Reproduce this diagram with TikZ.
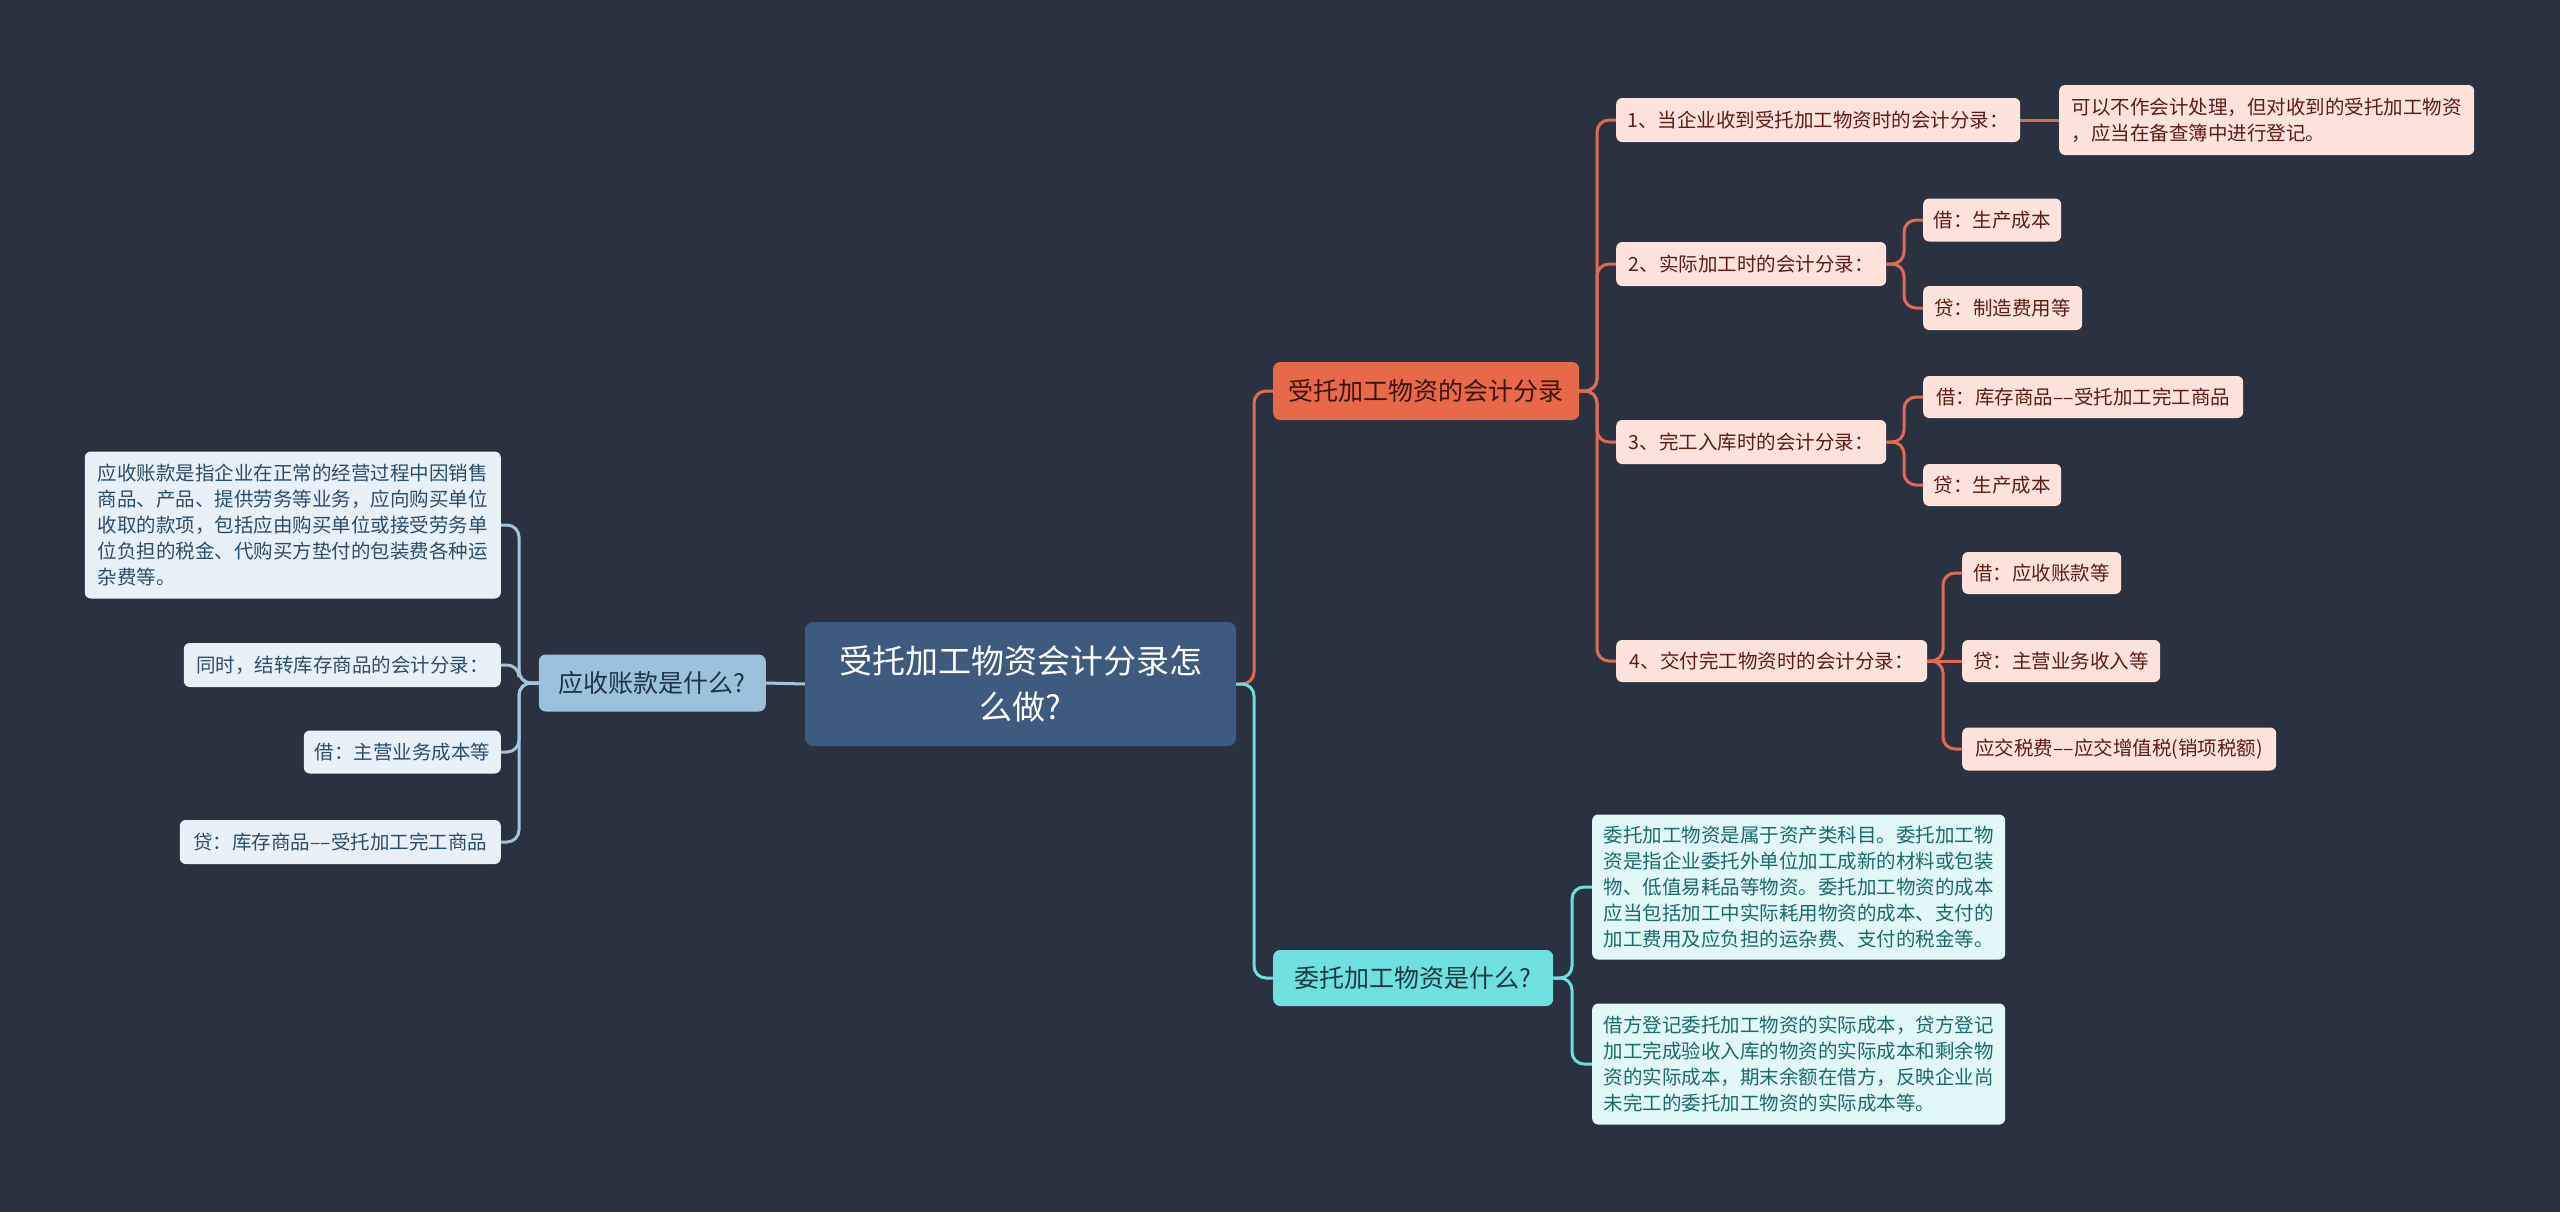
\documentclass[tikz,border=0pt]{standalone}
\usepackage{fontspec}
\setmainfont{Noto Sans CJK SC}
\definecolor{bg}{HTML}{2A3242}
\definecolor{rootfill}{HTML}{3E5A7F}
\definecolor{ofill}{HTML}{E8694A}
\definecolor{otext}{HTML}{3A140C}
\definecolor{oline}{HTML}{E06A52}
\definecolor{pfill}{HTML}{FDE3DC}
\definecolor{ptext}{HTML}{5E1D10}
\definecolor{cfill}{HTML}{6FDFE0}
\definecolor{ctext}{HTML}{1C3A3E}
\definecolor{cline}{HTML}{6FDDE0}
\definecolor{clfill}{HTML}{E2F7F8}
\definecolor{cltext}{HTML}{1B6A6C}
\definecolor{bfill}{HTML}{9BC1DC}
\definecolor{btext}{HTML}{1E3346}
\definecolor{bline}{HTML}{A3C4DC}
\definecolor{blfill}{HTML}{E9F1F8}
\definecolor{bltext}{HTML}{2C4D6A}
\tikzset{
  box/.style={rounded corners=6pt, inner xsep=0pt, inner ysep=0pt, align=left,
    font=\fontsize{19.5}{26}\selectfont},
  rootbox/.style={box, fill=rootfill, text=white, align=center, rounded corners=8pt,
    font=\fontsize{33}{46}\selectfont},
  obox/.style={box, fill=ofill, text=otext, font=\fontsize{25}{30}\selectfont, rounded corners=7pt},
  cbox/.style={box, fill=cfill, text=ctext, font=\fontsize{25}{30}\selectfont, rounded corners=7pt},
  bbox/.style={box, fill=bfill, text=btext, font=\fontsize{25}{30}\selectfont, rounded corners=7pt},
  pbox/.style={box, fill=pfill, text=ptext},
  clbox/.style={box, fill=clfill, text=cltext},
  blbox/.style={box, fill=blfill, text=bltext},
  olink/.style={draw=oline, line width=3pt, rounded corners=12pt},
  clink/.style={draw=cline, line width=3pt, rounded corners=12pt},
  blink/.style={draw=bline, line width=3pt, rounded corners=12pt},
}
\begin{document}
\begin{tikzpicture}[x=1pt,y=-1pt]
\useasboundingbox (0,0) rectangle (2560,1211);
\fill[bg] (-10,-10) rectangle (2570,1221);

% trunks
\coordinate (tR) at (1254,0);
\coordinate (tO) at (1597,0);
\coordinate (tO2) at (1904,0);
\coordinate (tO3) at (1904,0);
\coordinate (tO4) at (1943,0);
\coordinate (tC) at (1572,0);
\coordinate (tB) at (519,0);

% root
\node[rootbox, minimum width=431pt, minimum height=124pt] (root) at (1020.5,684)
  {受托加工物资会计分录怎\\么做?};

% level 1
\node[obox, anchor=west, minimum width=306pt, minimum height=58pt] (o) at (1273,391) {受托加工物资的会计分录};
\node[cbox, anchor=west, minimum width=280pt, minimum height=56pt] (c) at (1273,978) {委托加工物资是什么?};
\node[bbox, anchor=east, minimum width=227pt, minimum height=57pt] (b) at (766,683) {应收账款是什么?};

% orange children
\node[pbox, anchor=west, minimum width=404pt, minimum height=44pt] (o1) at (1616,120) {1、当企业收到受托加工物资时的会计分录：};
\node[pbox, anchor=west, minimum width=415pt, minimum height=70pt] (o1a) at (2059,120)
  {可以不作会计处理，但对收到的受托加工物资\\，应当在备查簿中进行登记。};
\node[pbox, anchor=west, minimum width=270pt, minimum height=44pt] (o2) at (1616,264) {2、实际加工时的会计分录：};
\node[pbox, anchor=west, minimum width=138pt, minimum height=43pt] (o2a) at (1923,220) {借：生产成本};
\node[pbox, anchor=west, minimum width=159pt, minimum height=44pt] (o2b) at (1923,308) {贷：制造费用等};
\node[pbox, anchor=west, minimum width=270pt, minimum height=44pt] (o3) at (1616,442) {3、完工入库时的会计分录：};
\node[pbox, anchor=west, minimum width=320pt, minimum height=42pt] (o3a) at (1923,397) {借：库存商品–{}–受托加工完工商品};
\node[pbox, anchor=west, minimum width=138pt, minimum height=42pt] (o3b) at (1923,485) {贷：生产成本};
\node[pbox, anchor=west, minimum width=311pt, minimum height=42pt] (o4) at (1616,661) {4、交付完工物资时的会计分录：};
\node[pbox, anchor=west, minimum width=159pt, minimum height=42pt] (o4a) at (1962,573) {借：应收账款等};
\node[pbox, anchor=west, minimum width=198pt, minimum height=42pt] (o4b) at (1962,661) {贷：主营业务收入等};
\node[pbox, anchor=west, minimum width=314pt, minimum height=43pt] (o4c) at (1962,749) {应交税费–{}–应交增值税(销项税额)};

% cyan children
\node[clbox, anchor=west, minimum width=413pt, minimum height=145pt] (c1) at (1592,887)
  {委托加工物资是属于资产类科目。委托加工物\\资是指企业委托外单位加工成新的材料或包装\\物、低值易耗品等物资。委托加工物资的成本\\应当包括加工中实际耗用物资的成本、支付的\\加工费用及应负担的运杂费、支付的税金等。};
\node[clbox, anchor=west, minimum width=413pt, minimum height=121pt] (c2) at (1592,1064)
  {借方登记委托加工物资的实际成本，贷方登记\\加工完成验收入库的物资的实际成本和剩余物\\资的实际成本，期末余额在借方，反映企业尚\\未完工的委托加工物资的实际成本等。};

% blue children
\node[blbox, anchor=east, minimum width=416pt, minimum height=147pt] (b1) at (501,525)
  {应收账款是指企业在正常的经营过程中因销售\\商品、产品、提供劳务等业务，应向购买单位\\收取的款项，包括应由购买单位或接受劳务单\\位负担的税金、代购买方垫付的包装费各种运\\杂费等。};
\node[blbox, anchor=east, minimum width=317pt, minimum height=44pt] (b2) at (501,665) {同时，结转库存商品的会计分录：};
\node[blbox, anchor=east, minimum width=197pt, minimum height=43pt] (b3) at (501,752) {借：主营业务成本等};
\node[blbox, anchor=east, minimum width=321pt, minimum height=44pt] (b4) at (501,842) {贷：库存商品–{}–受托加工完工商品};

% connectors
\draw[olink] (root.east) -- (root.east -| tR) |- (o.west);
\draw[clink] (root.east) -- (root.east -| tR) |- (c.west);
\draw[blink] (root.west) -- (b.east);

\foreach \k in {o1,o2,o3,o4} \draw[olink] (o.east) -- (o.east -| tO) |- (\k.west);
\draw[olink] (o1.east) -- (o1a.west);
\foreach \k in {o2a,o2b} \draw[olink] (o2.east) -- (o2.east -| tO2) |- (\k.west);
\foreach \k in {o3a,o3b} \draw[olink] (o3.east) -- (o3.east -| tO3) |- (\k.west);
\foreach \k in {o4a,o4c} \draw[olink] (o4.east) -- (o4.east -| tO4) |- (\k.west);
\draw[olink] (o4.east) -- (o4b.west);

\foreach \k in {c1,c2} \draw[clink] (c.east) -- (c.east -| tC) |- (\k.west);
\foreach \k in {b1,b2,b3,b4} \draw[blink] (b.west) -- (b.west -| tB) |- (\k.east);
\end{tikzpicture}
\end{document}
